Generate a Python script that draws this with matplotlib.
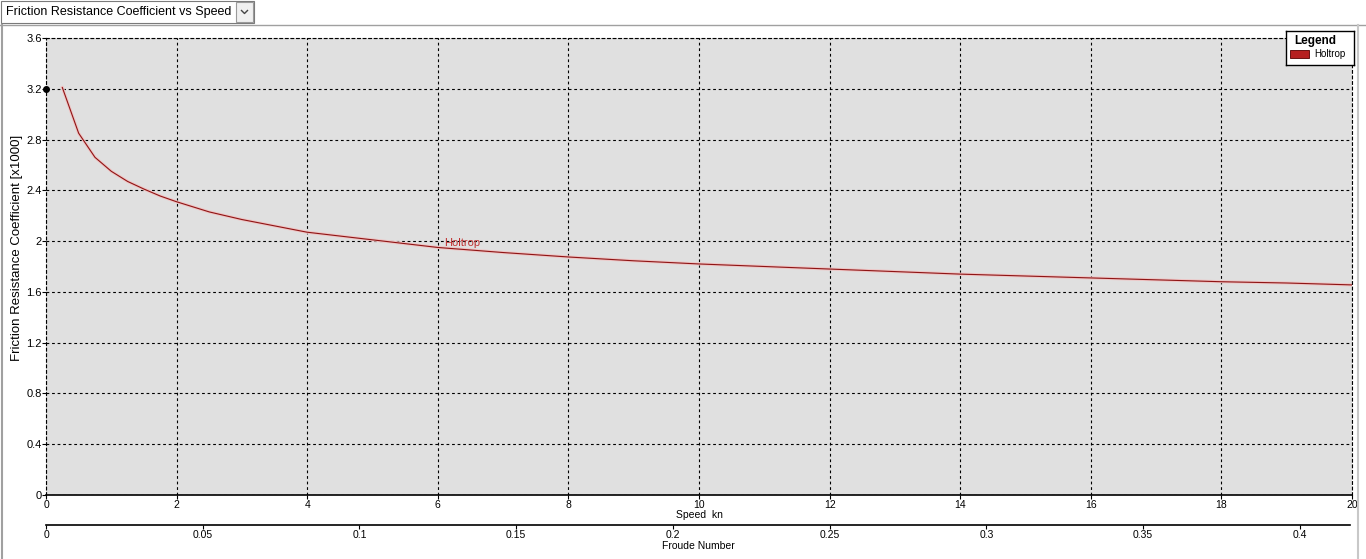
import matplotlib
matplotlib.use("Agg")
import matplotlib.pyplot as plt
import matplotlib.patheffects as pe
from matplotlib.patches import Rectangle
from matplotlib.lines import Line2D

plt.rcParams['font.family'] = ['Liberation Sans', 'DejaVu Sans']

# data
speed_kn = [0.25, 0.5, 0.75, 1, 1.25, 1.5, 1.75, 2, 2.5, 3, 3.5, 4, 5, 6, 7, 8,
            9, 10, 11, 12, 13, 14, 15, 16, 17, 18, 19, 20]
cf_x1000 = [3.21, 2.85, 2.66, 2.55, 2.47, 2.41, 2.355, 2.31, 2.23, 2.17, 2.12,
            2.07, 2.01, 1.95, 1.91, 1.875, 1.845, 1.82, 1.80, 1.78, 1.76, 1.74,
            1.725, 1.71, 1.695, 1.68, 1.67, 1.655]
speed_ticks = [0, 2, 4, 6, 8, 10, 12, 14, 16, 18, 20]
cf_ticks = [0, 0.4, 0.8, 1.2, 1.6, 2, 2.4, 2.8, 3.2, 3.6]
froude_ticks = [0, 0.05, 0.1, 0.15, 0.2, 0.25, 0.3, 0.35, 0.4]
froude_max = 0.416
series_name = "Holtrop"

W, H = 1366, 559
fig = plt.figure(figsize=(W / 100, H / 100), dpi=100)
fig.patch.set_facecolor('white')

def fx(px):
    return px / W

def fy(py):
    return 1 - py / H

# window chrome: dropdown + borders
fig.add_artist(Line2D([0, 1], [fy(25), fy(25)], color='#a0a0a0', lw=1))
fig.add_artist(Line2D([fx(2), fx(2)], [0, fy(25)], color='#a0a0a0', lw=1.5))
fig.add_artist(Line2D([fx(1358), fx(1358)], [0, fy(25)], color='#c8c8c8', lw=1.5))
fig.add_artist(Rectangle((fx(1), fy(23)), fx(253), 22 / H, facecolor='white',
                         edgecolor='#7a7a7a', lw=0.8))
fig.add_artist(Rectangle((fx(236), fy(22)), fx(17), 20 / H, facecolor='#f0f0f0',
                         edgecolor='#9a9a9a', lw=0.8))
fig.add_artist(Line2D([fx(241.5), fx(244.5), fx(247.5)], [fy(10.5), fy(13.5), fy(10.5)],
                      color='#444444', lw=1))
fig.text(fx(6), fy(12), 'Friction Resistance Coefficient vs Speed', ha='left',
         va='center', fontsize=9, color='black')

left, right, top, bottom = 46, 1352, 38, 495
ax = fig.add_axes([fx(left), fy(bottom), (right - left) / W, (bottom - top) / H])
ax.set_facecolor('#e0e0e0')

line, = ax.plot(speed_kn, cf_x1000, color='#8e1414', lw=0.8)
line.set_path_effects([pe.Stroke(linewidth=2.2, foreground='#efc4c4'), pe.Normal()])
ax.plot([0], [3.2], 'o', color='black', ms=4, clip_on=False, zorder=5)
ax.text(6.1, 1.985, series_name, color='#c03030', fontsize=8, ha='left', va='center')

ax.set_xlim(0, 20)
ax.set_ylim(0, 3.6)
ax.set_xticks(speed_ticks)
ax.set_yticks(cf_ticks)
ax.set_yticklabels(['%g' % v for v in cf_ticks])
ax.grid(True, color='black', linestyle=(0, (2.5, 2.5)), lw=0.8)
ax.tick_params(direction='out', length=3, width=0.8, labelsize=7.5, pad=0.5, colors='black')
ax.tick_params(axis='y', labelsize=8, pad=0)
for s in ['top', 'right', 'left']:
    ax.spines[s].set_linestyle((0, (2.5, 2.5)))
    ax.spines[s].set_linewidth(0.8)
ax.spines['bottom'].set_linewidth(1.2)
xl = ax.set_xlabel('Speed  kn', fontsize=7.5, va='center')
ax.xaxis.set_label_coords(0.5, -(515.5 - bottom) / (bottom - top))
ax.set_ylabel('Friction Resistance Coefficient [x1000]', fontsize=9.5)
ax.yaxis.set_label_coords(-0.0176, 0.54)

# legend box
lg = fig.add_axes([fx(1286), fy(65), 68 / W, 34 / H])
lg.set_xticks([])
lg.set_yticks([])
lg.set_xlim(0, 68)
lg.set_ylim(34, 0)
for s in lg.spines.values():
    s.set_linewidth(1)
lg.text(8, 10, 'Legend', fontsize=8.5, fontweight='bold', va='center')
lg.add_patch(Rectangle((4, 19), 19, 8, facecolor='#b52020', edgecolor='#550000', lw=0.6))
lg.text(28, 23, series_name, fontsize=7, va='center')

# Froude number axis
fa = fig.add_axes([fx(left), fy(525), (1350 - left) / W, 0.0001])
fa.set_xlim(0, froude_max)
fa.set_xticks(froude_ticks)
fa.set_xticklabels(['%g' % v for v in froude_ticks])
fa.set_yticks([])
for s in ['top', 'left', 'right']:
    fa.spines[s].set_visible(False)
fa.spines['bottom'].set_linewidth(1.2)
fa.tick_params(direction='out', length=3, width=0.8, labelsize=7.5, pad=0.5)
fig.text(fx(698), fy(546), 'Froude Number', ha='center', va='center', fontsize=7.5)

fig.savefig('out.png', dpi=100)
